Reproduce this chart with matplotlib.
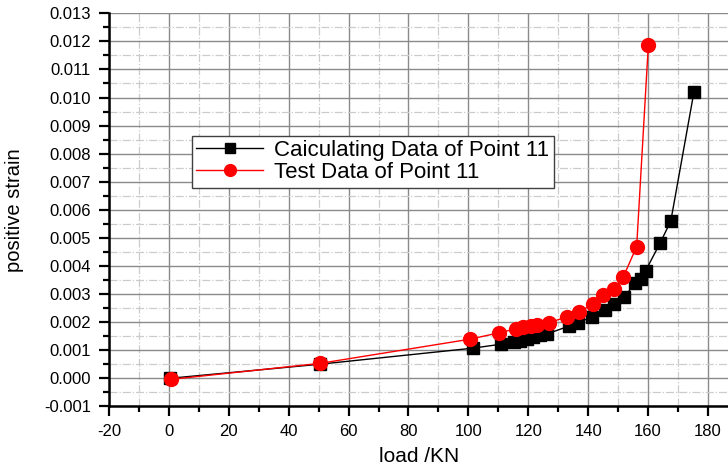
import matplotlib
matplotlib.use("Agg")
import matplotlib.pyplot as plt
import matplotlib.ticker as ticker

plt.rcParams['font.family'] = ['Liberation Sans', 'DejaVu Sans']
plt.rcParams['axes.unicode_minus'] = False

# load (kN) and positive strain
calc_load = [0.5, 50.5, 101.4, 110.8, 115.3, 117.2, 119.5, 121.7, 123.9, 126.3,
             133.7, 136.7, 141.4, 145.6, 148.6, 152.0, 155.6, 157.5, 159.2,
             164.0, 167.6, 175.3]
calc_strain = [0.0, 0.00050, 0.00107, 0.00121, 0.00130, 0.00134, 0.00139, 0.00148,
               0.00153, 0.00158, 0.00186, 0.00198, 0.00219, 0.00243, 0.00265,
               0.00288, 0.00338, 0.00353, 0.00383, 0.00481, 0.00560, 0.01018]

test_load = [0.7, 50.5, 100.5, 110.3, 115.9, 118.1, 120.8, 122.8, 127.0, 133.0,
             137.0, 141.7, 145.0, 148.7, 151.7, 156.2, 160.1]
test_strain = [-0.00004, 0.00053, 0.00139, 0.00162, 0.00176, 0.00182, 0.00187,
               0.00191, 0.00198, 0.00219, 0.00237, 0.00264, 0.00296, 0.00317,
               0.00360, 0.00469, 0.01187]

calc_label = "Caiculating Data of Point 11"
test_label = "Test Data of Point 11"

fig = plt.figure(figsize=(7.28, 4.72), dpi=100, facecolor="white")
ax = fig.add_axes([0.1497, 0.1392, 0.8503, 0.8326])

ax.set_xlim(-20, 186.7)
ax.set_ylim(-0.001, 0.013)

ax.xaxis.set_major_locator(ticker.MultipleLocator(20))
ax.xaxis.set_minor_locator(ticker.MultipleLocator(10))
ax.yaxis.set_major_locator(ticker.MultipleLocator(0.001))
ax.yaxis.set_minor_locator(ticker.MultipleLocator(0.0005))
ax.yaxis.set_major_formatter(ticker.FormatStrFormatter("%.3f"))
ax.xaxis.set_major_formatter(ticker.FuncFormatter(lambda v, p: f"{v:.0f}" if v <= 180 else ""))

ax.grid(which="major", color="#8a8a8a", lw=1.0, ls="-", zorder=0)
ax.grid(which="minor", color="#cccccc", lw=0.9, ls="-.", zorder=0)
ax.set_axisbelow(True)

ax.spines[["top", "right"]].set_visible(False)
ax.spines[["left", "bottom"]].set_linewidth(1.8)
ax.spines[["left", "bottom"]].set_color("black")

ax.tick_params(which="major", direction="out", length=7, width=1.6, labelsize=12, pad=6, color="black")
ax.tick_params(which="minor", direction="out", length=4, width=1.6, color="black")
ax.tick_params(axis="y", which="both", right=False)
ax.tick_params(axis="x", which="both", top=False)

ax.plot(calc_load, calc_strain, color="black", lw=1.0, marker="s", ms=8,
        mfc="black", mec="black", label=calc_label, zorder=3)
ax.plot(test_load, test_strain, color="red", lw=1.0, marker="o", ms=10,
        mfc="red", mec="red", label=test_label, zorder=4)

ax.set_xlabel("load /KN", fontsize=15)
ax.xaxis.set_label_coords(0.5008, -0.103)
ax.set_ylabel("positive strain", fontsize=14.5)
ax.yaxis.set_label_coords(-0.138, 0.4995)

leg = ax.legend(loc="upper left", bbox_to_anchor=(0.134, 0.6886), borderaxespad=0,
                fontsize=16, frameon=True, fancybox=False, handlelength=3.0,
                handletextpad=0.5, labelspacing=0.05, borderpad=0.2, markerscale=0.85)
leg.get_frame().set_edgecolor("#404040")
leg.get_frame().set_linewidth(1.0)
leg.get_frame().set_alpha(1)

fig.savefig("out.png", dpi=100)
